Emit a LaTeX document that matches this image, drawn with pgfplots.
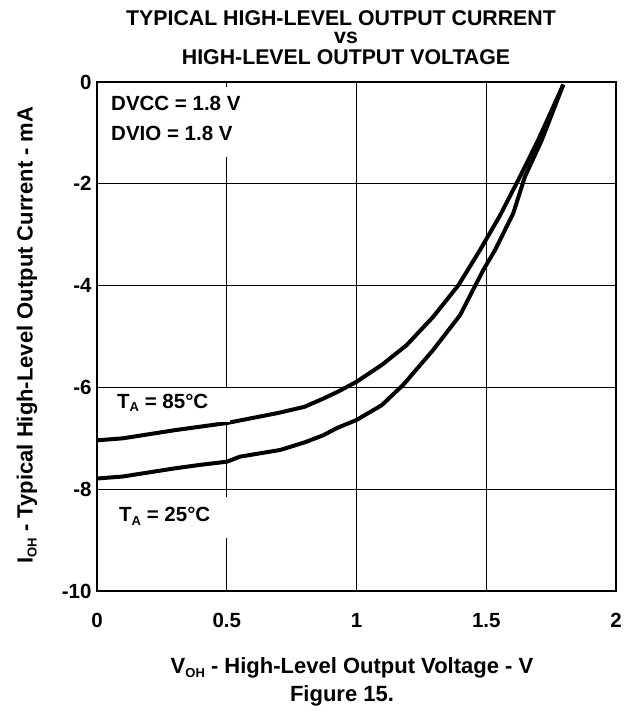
\documentclass[border=0pt]{standalone}
\usepackage{pgfplots}
\pgfplotsset{compat=1.18}
\usepackage{fontspec}
\setmainfont{Liberation Sans}
\newcommand{\sub}[1]{\raisebox{-0.35ex}{\fontsize{13bp}{14bp}\selectfont #1}}
\newcommand{\bigf}{\fontsize{20.5bp}{22bp}\selectfont\bfseries}
\newcommand{\labf}{\fontsize{22bp}{24bp}\selectfont\bfseries}
\newcommand{\titf}{\fontsize{21.3bp}{23bp}\selectfont\bfseries}
\begin{document}
\begin{tikzpicture}[x=1bp,y=1bp]
\useasboundingbox (0,0) rectangle (632,-711);
\begin{axis}[
  at={(97bp,-591bp)}, anchor=south west,
  width=519bp, height=509bp, scale only axis,
  xmin=0, xmax=2, ymin=-10, ymax=0,
  xtick={0,0.5,1,1.5,2}, ytick={-10,-8,-6,-4,-2,0},
  grid=major, major grid style={black, line width=1.1bp},
  axis line style={line width=1.8bp},
  tick style={draw=none},
  tick label style={font=\bigf},
  /pgf/number format/assume math mode=true,
  xticklabel style={yshift=-19bp},
  yticklabel style={xshift=-2bp},
  clip=false,
]
\addplot[black, line width=4bp, line join=round] coordinates {
(0,-7.04) (0.1,-7.00) (0.2,-6.92) (0.3,-6.84) (0.4,-6.77) (0.5,-6.70)
(0.6,-6.60) (0.7,-6.50) (0.8,-6.38) (0.872,-6.22) (0.93,-6.08) (1.0,-5.89)
(1.097,-5.56) (1.193,-5.17) (1.296,-4.61) (1.393,-3.99) (1.476,-3.30)
(1.55,-2.65) (1.630,-1.86) (1.70,-1.14) (1.797,-0.05)
};
\addplot[black, line width=4bp, line join=round] coordinates {
(0,-7.79) (0.1,-7.75) (0.2,-7.67) (0.3,-7.59) (0.4,-7.52) (0.5,-7.46)
(0.551,-7.36) (0.705,-7.23) (0.8,-7.08) (0.872,-6.94) (0.924,-6.80) (1.0,-6.64)
(1.097,-6.35) (1.18,-5.95) (1.296,-5.26) (1.399,-4.58) (1.489,-3.69)
(1.534,-3.30) (1.604,-2.58) (1.649,-1.86) (1.714,-1.14) (1.797,-0.05)
};
\end{axis}
% white boxes behind in-plot labels
\fill[white] (103,-87) rectangle (250,-157);
\fill[white] (103,-388) rectangle (230,-422);
\fill[white] (103,-497) rectangle (230,-538);
\node[anchor=base west, inner sep=0pt, font=\bigf] at (111,-110.7) {DVCC = 1.8 V};
\node[anchor=base west, inner sep=0pt, font=\bigf] at (111,-141) {DVIO = 1.8 V};
\node[anchor=base west, inner sep=0pt, font=\bigf] at (117,-408) {T\sub{A} = 85°C};
\node[anchor=base west, inner sep=0pt, font=\bigf] at (119,-521.7) {T\sub{A} = 25°C};
% title
\node[anchor=base, inner sep=0pt, font=\titf] at (341,-26) {TYPICAL HIGH-LEVEL OUTPUT CURRENT};
\node[anchor=base, inner sep=0pt, font=\titf] at (346,-43.5) {vs};
\node[anchor=base, inner sep=0pt, font=\titf] at (346,-65) {HIGH-LEVEL OUTPUT VOLTAGE};
% axis labels
\node[anchor=base, inner sep=0pt, font=\labf] at (352,-673.3) {V\sub{OH} - High-Level Output Voltage - V};
\node[anchor=base, inner sep=0pt, font=\labf] at (342,-701.7) {Figure 15.};
\node[rotate=90, anchor=base, inner sep=0pt, font=\labf] at (32.5,-335) {I\sub{OH} - Typical High-Level Output Current - mA};
\end{tikzpicture}
\end{document}
